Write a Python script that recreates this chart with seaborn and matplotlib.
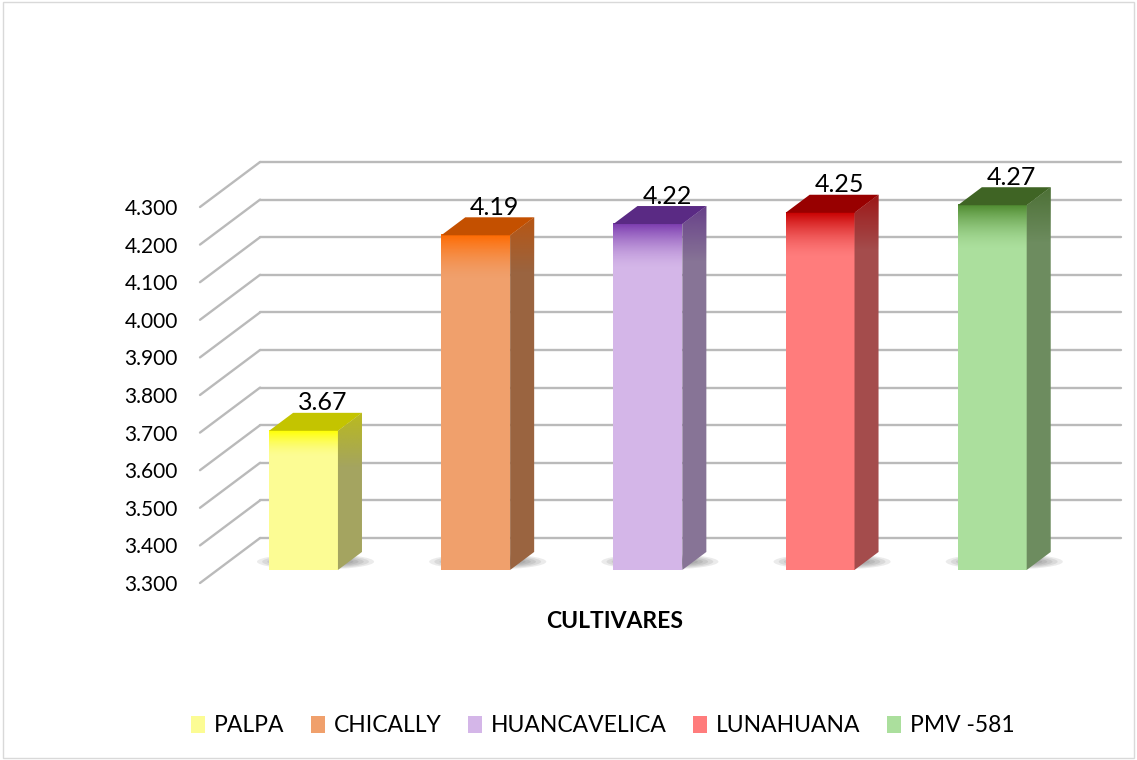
import matplotlib
matplotlib.use("Agg")
import matplotlib.pyplot as plt
import seaborn as sns
import numpy as np
import pandas as pd
from matplotlib.patches import Polygon, Ellipse, Rectangle, Patch
from matplotlib.colors import to_rgb

# data
cultivars = ["PALPA", "CHICALLY", "HUANCAVELICA", "LUNAHUANA", "PMV -581"]
values = [3.67, 4.19, 4.22, 4.25, 4.27]
yticks = [3.3, 3.4, 3.5, 3.6, 3.7, 3.8, 3.9, 4.0, 4.1, 4.2, 4.3]

# colours per bar: front face, top glow, top face, side face
front_cols = ["#FCFC94", "#F0A06C", "#D4B6E8", "#FF7C7C", "#ABDF9D"]
glow_cols = ["#FFFF00", "#FF6A00", "#7A3AAE", "#C80000", "#4E8A2E"]
top_cols = ["#C4C400", "#C45000", "#5A2A84", "#980000", "#3F6424"]
side_cols = ["#A4A460", "#9A6440", "#877496", "#A44C4C", "#6D8C5F"]

df = pd.DataFrame({"cultivar": cultivars, "value": values})

# pseudo 3d depth (in data units)
DX = 60 / 172
DY = 45 / 376
F0, F1 = 0.29, 0.69
BW = 0.4
BASE = 3.3

sns.set_style("white")
plt.rcParams["font.family"] = ["Lato", "DejaVu Sans"]
plt.rcParams["text.color"] = "black"
plt.rcParams["ytick.color"] = "black"

fig = plt.figure(figsize=(11.37, 7.6), dpi=100)
ax = fig.add_axes([200 / 1137, 1 - 583 / 760, 921 / 1137, (1.0 + DY) * 376 / 760])

# walls
for v in yticks:
    ax.plot([-0.5 + DX, 4.5 + DX], [v + DY, v + DY], color="#BABABA", lw=1.7, zorder=1, clip_on=False)
    ax.plot([-0.5, -0.5 + DX], [v, v + DY], color="#BABABA", lw=1.7, zorder=1, clip_on=False)

sns.barplot(data=df, x="cultivar", y="value", hue="cultivar", palette=front_cols,
            width=BW, legend=False, ax=ax, zorder=3, saturation=1)

bdx = (F1 - F0) * DX
bdy = (F1 - F0) * DY
for i, p in enumerate(ax.patches):
    v = values[i]
    xl = p.get_x() + F0 * DX
    xr = xl + BW
    b = BASE + F0 * DY
    t = v + F0 * DY
    p.set_x(xl)
    p.set_y(b)
    p.set_height(v - BASE)
    p.set_edgecolor("none")

    # soft floor shadow
    cx = xl + BW / 2 + bdx * 0.5
    for k in range(6):
        ax.add_patch(Ellipse((cx, b + 0.022), 0.68 - k * 0.06, 0.042 - k * 0.005,
                             color="#2A2A2A", alpha=0.09, lw=0, zorder=2))

    # glow at the top of the front face
    rgb = to_rgb(glow_cols[i])
    n = 64
    grad = np.zeros((n, 2, 4))
    grad[..., :3] = rgb
    grad[..., 3] = np.linspace(1, 0, n)[:, None] ** 1.6
    glow_h = 0.07 if i == 0 else 0.12
    ax.imshow(grad, extent=[xl, xr, t - glow_h, t], aspect="auto", zorder=4, origin="upper")

    # side and top faces
    ax.add_patch(Polygon([[xr, b], [xr, t], [xr + bdx, t + bdy], [xr + bdx, b + bdy]],
                         closed=True, facecolor=side_cols[i], edgecolor="none", zorder=4))
    sgrad = np.zeros((n, 2, 4))
    sgrad[..., :3] = to_rgb(top_cols[i])
    sgrad[..., 3] = np.linspace(0.7, 0, n)[:, None]
    im = ax.imshow(sgrad, extent=[xr, xr + bdx, t - 0.1, t + bdy], aspect="auto", zorder=5, origin="upper")
    clip = Polygon([[xr, b], [xr, t], [xr + bdx, t + bdy], [xr + bdx, b + bdy]],
                   closed=True, transform=ax.transData)
    im.set_clip_path(clip)
    ax.add_patch(Polygon([[xl, t], [xr, t], [xr + bdx, t + bdy], [xl + bdx, t + bdy]],
                         closed=True, facecolor=top_cols[i], edgecolor="none", zorder=5))

    ax.text(xl + BW / 2 + bdx * 0.8, t + bdy - 0.004, f"{v:.2f}", ha="center", va="bottom",
            fontsize=18, color="black", zorder=6)

ax.set_xlim(-0.5, 4.5 + DX)
ax.set_ylim(BASE, 4.3 + DY)
ax.set_yticks(yticks)
ax.set_yticklabels([f"{v:.3f}" for v in yticks], fontsize=15)
ax.set_xticks([])
ax.set_xlabel("")
ax.set_ylabel("")
ax.tick_params(axis="y", length=0, pad=16)
sns.despine(ax=ax, left=True, bottom=True)
ax.patch.set_alpha(0)

fig.text(615 / 1137, 1 - 622 / 760, "CULTIVARES", ha="center", va="center",
         fontsize=16.5, fontweight="bold")

handles = [Patch(facecolor=c, edgecolor="none") for c in front_cols]
fig.legend(handles, cultivars, loc="center", bbox_to_anchor=(603 / 1137, 1 - 726 / 760),
           ncol=5, frameon=False, fontsize=16.5, handlelength=0.6, handleheight=0.75,
           handletextpad=0.4, columnspacing=1.15)

fig.add_artist(Rectangle((0.003, 0.003), 0.994, 0.994, transform=fig.transFigure,
                         fill=False, edgecolor="#D9D9D9", lw=1))

fig.savefig("out.png", dpi=100)
plt.close(fig)
